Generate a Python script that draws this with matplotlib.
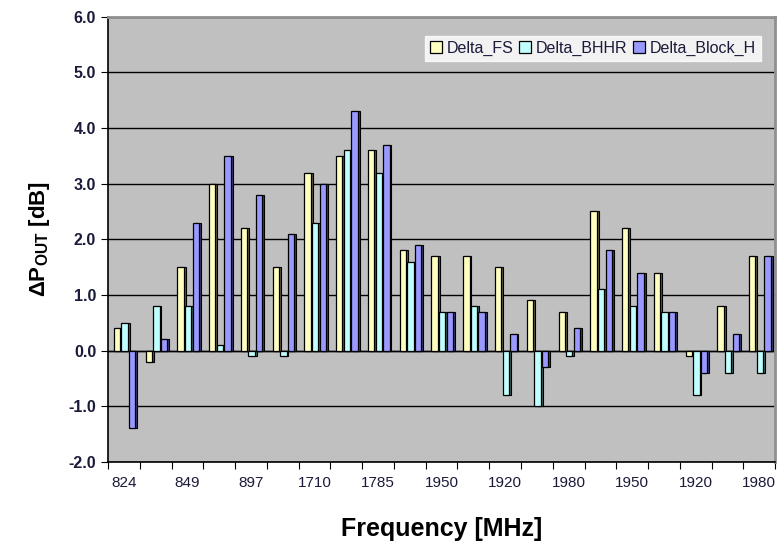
import numpy as np
import matplotlib
matplotlib.use('Agg')
import matplotlib.pyplot as plt
from matplotlib import font_manager

plt.rcParams['font.family'] = ['Liberation Sans', 'DejaVu Sans']
plt.rcParams['mathtext.fontset'] = 'custom'
plt.rcParams['mathtext.bf'] = 'Liberation Sans:bold'
plt.rcParams['mathtext.rm'] = 'Liberation Sans:bold'
plt.rcParams['mathtext.default'] = 'bf'

names = {f.name for f in font_manager.fontManager.ttflist}
narrow = 'Liberation Sans Narrow' if 'Liberation Sans Narrow' in names else 'Liberation Sans'

tick_labels = ['824', '', '849', '', '897', '', '1710', '', '1785', '', '1950',
               '', '1920', '', '1980', '', '1950', '', '1920', '', '1980']
delta_fs = [0.4, -0.2, 1.5, 3.0, 2.2, 1.5, 3.2, 3.5, 3.6, 1.8, 1.7,
            1.7, 1.5, 0.9, 0.7, 2.5, 2.2, 1.4, -0.1, 0.8, 1.7]
delta_bhhr = [0.5, 0.8, 0.8, 0.1, -0.1, -0.1, 2.3, 3.6, 3.2, 1.6, 0.7,
              0.8, -0.8, -1.0, -0.1, 1.1, 0.8, 0.7, -0.8, -0.4, -0.4]
delta_block = [-1.4, 0.2, 2.3, 3.5, 2.8, 2.1, 3.0, 4.3, 3.7, 1.9, 0.7,
               0.7, 0.3, -0.3, 0.4, 1.8, 1.4, 0.7, -0.4, 0.3, 1.7]
series_names = ['Delta_FS', 'Delta_BHHR', 'Delta_Block_H']
face_colors = ['#FFFFC0', '#C0FFFF', '#9999FF']
side_colors = ['#5a5a40', '#406060', '#3a3a70']

fig = plt.figure(figsize=(7.83, 5.42), dpi=100)
ax = fig.add_axes([0.138, 0.148, 0.852, 0.821])
ax.set_facecolor('#C0C0C0')

x = np.arange(len(tick_labels))
offsets = [-0.22, 0.02, 0.26]
w = 0.2
depth = 0.06
handles = []
for vals, off, fc, sc, name in zip([delta_fs, delta_bhhr, delta_block], offsets,
                                   face_colors, side_colors, series_names):
    # side face for a simple 3D look
    ax.bar(x + off + depth, vals, width=w, color=sc, edgecolor='black',
           linewidth=0.8, zorder=3)
    h = ax.bar(x + off, vals, width=w, color=fc, edgecolor='black',
               linewidth=0.9, zorder=4, label=name)
    handles.append(h)

ax.set_xlim(-0.5, len(tick_labels) - 0.5)
ax.set_ylim(-2.0, 6.0)
yt = np.arange(-2.0, 6.01, 1.0)
ax.set_yticks(yt)
ax.set_yticklabels([f'{v:.1f}' for v in yt], fontsize=11.5, fontweight='bold',
                   color='#1a1a3a')
ax.yaxis.grid(True, color='black', linewidth=1.0, zorder=1)
ax.set_axisbelow(True)
ax.axhline(0, color='black', linewidth=1.0, zorder=2)

ax.set_xticks(np.arange(-0.5, len(tick_labels), 1.0))
ax.set_xticklabels([])
ax.set_xticks(x, minor=True)
ax.set_xticklabels(tick_labels, minor=True, fontsize=11, family=narrow,
                   color='#1a1a3a')
ax.tick_params(axis='x', which='minor', length=0, pad=10)
ax.tick_params(axis='x', which='major', length=5, direction='out')
ax.tick_params(axis='y', length=5, direction='out')

for s in ['top', 'right']:
    ax.spines[s].set_color('#909090')
    ax.spines[s].set_linewidth(2)
ax.spines['left'].set_linewidth(1.2)
ax.spines['bottom'].set_linewidth(1.2)

ax.set_ylabel(r'$\Delta P_{OUT}$ [dB]', fontsize=16, fontweight='bold', labelpad=12)
ax.set_xlabel('Frequency [MHz]', fontsize=18, fontweight='bold', labelpad=20)

leg = ax.legend(handles=handles, loc='upper right', ncol=3, fontsize=11.5,
                frameon=True, fancybox=False, handlelength=0.75, handleheight=0.75,
                handletextpad=0.3, columnspacing=0.35, borderpad=0.3,
                bbox_to_anchor=(0.99, 0.975))
leg.get_frame().set_edgecolor('white')
leg.get_frame().set_facecolor('white')
leg.set_zorder(10)
for t in leg.get_texts():
    t.set_color('#1a1a3a')

fig.savefig('out.png', dpi=100)
